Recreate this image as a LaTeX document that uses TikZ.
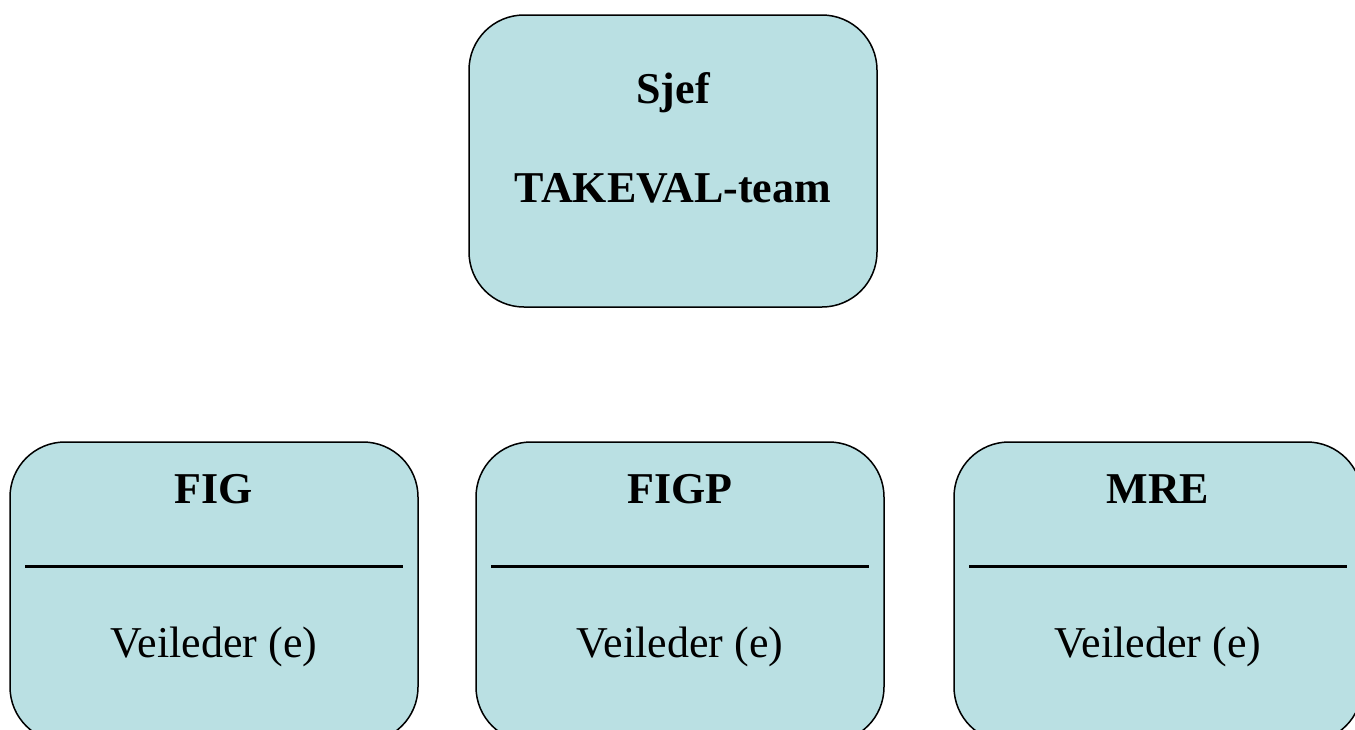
\documentclass[tikz,border=0pt]{standalone}
\usepackage{fontspec}
\setmainfont{Liberation Serif}
\usepackage{xcolor}
\usetikzlibrary{positioning}
\definecolor{boxfill}{RGB}{186,224,227}
\tikzset{
    unit/.style={rectangle, rounded corners=55pt, draw, line width=1.5pt, fill=boxfill, minimum width=408pt, inner sep=0pt, outer sep=0pt},
    title/.style={anchor=base, font=\fontsize{44}{52}\selectfont\bfseries},
    role/.style={anchor=base, font=\fontsize{44}{52}\selectfont},
    rule/.style={line width=3pt}
}

\begin{document}
\begin{tikzpicture}
    \useasboundingbox (0pt,0pt) rectangle (1355pt,-729pt);
    \clip (0pt,0pt) rectangle (1355pt,-729pt);

    \node[unit, minimum height=292pt] (chief) at (673pt,-161pt) {};
    \node[unit, minimum height=300pt] (fig) at (214pt,-592pt) {};
    \node[unit, minimum height=300pt, right=58pt of fig] (figp) {};
    \node[unit, minimum height=300pt, right=70pt of figp] (mre) {};

    \node[title] at (chief.north) [yshift=-88pt] {Sjef};
    \node[title] at (chief.north) [yshift=-187pt] {TAKEVAL-team};

    \node[title] at (fig.north) [yshift=-61pt] {FIG};
    \node[title] at (figp.north) [yshift=-61pt] {FIGP};
    \node[title] at (mre.north) [yshift=-61pt] {MRE};

    \foreach \grp in {fig,figp,mre} {
        \draw[rule] ([xshift=15pt,yshift=-124pt]\grp.north west) -- ([xshift=-15pt,yshift=-124pt]\grp.north east);
        \node[role] at (\grp.north) [yshift=-215pt] {Veileder (e)};
    }
\end{tikzpicture}
\end{document}
